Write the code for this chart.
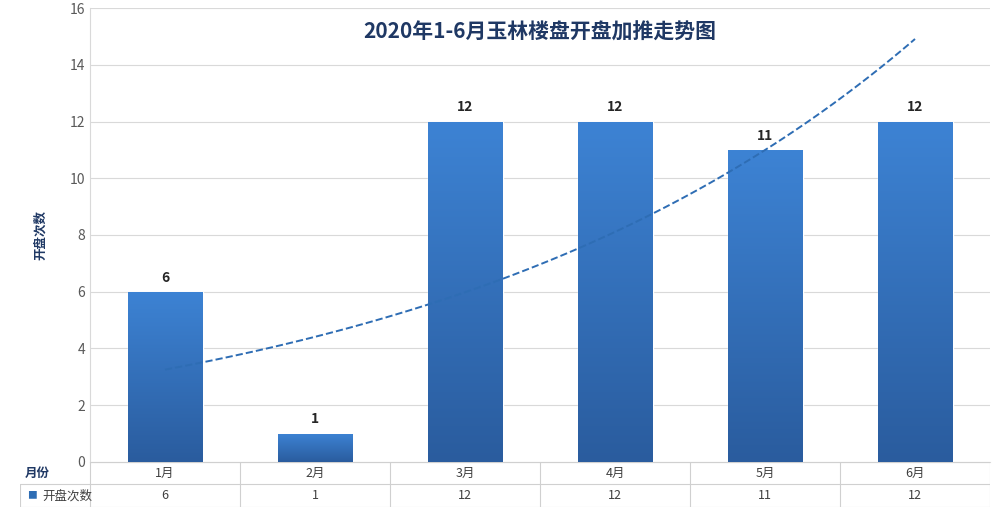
import numpy as np, pandas as pd, seaborn as sns, matplotlib
matplotlib.use("Agg")
import matplotlib.pyplot as plt
from matplotlib.colors import LinearSegmentedColormap

sns.set_style("white")
plt.rcParams['font.family'] = ['Noto Sans CJK SC', 'DejaVu Sans']

months = ["1月", "2月", "3月", "4月", "5月", "6月"]
counts = [6, 1, 12, 12, 11, 12]
title = "2020年1-6月玉林楼盘开盘加推走势图"

df = pd.DataFrame({"month": months, "count": counts})
fig = plt.figure(figsize=(10, 5.07), dpi=100)
ax = fig.add_axes([0.09, 0.089, 0.90, 0.895])
sns.barplot(data=df, x="month", y="count", color="#3a7bc8", width=0.5, ax=ax, zorder=2)

cmap = LinearSegmentedColormap.from_list("g", ["#2a5c9e", "#3d83d4"])
grad = np.linspace(0, 1, 256).reshape(-1, 1)
for p in ax.patches:
    x0, y0, w, h = p.get_x(), p.get_y(), p.get_width(), p.get_height()
    im = ax.imshow(grad, cmap=cmap, extent=[x0, x0 + w, y0, y0 + h], origin="lower",
                   aspect="auto", zorder=3)
    im.set_clip_path(p)
    ax.text(x0 + w / 2, h + 0.25, str(int(h)), ha="center", va="bottom",
            fontsize=10, fontweight="bold", zorder=4)

# exponential trendline fitted to the data
xs = np.arange(len(counts)) + 1
b, a = np.polyfit(xs, np.log(counts), 1)
xt = np.linspace(1, 6, 100)
ax.plot(xt - 1, np.exp(a + b * xt), ls="--", color="#2e6db4", lw=1.4, zorder=5)

ax.set_xlim(-0.5, 5.5)
ax.set_ylim(0, 16)
ax.set_yticks(range(0, 17, 2))
ax.yaxis.grid(True, color="#d9d9d9", lw=0.8, zorder=0)
ax.set_axisbelow(True)
ax.tick_params(axis="y", labelsize=10, colors="#595959", length=0)
ax.set_xticks([]); ax.set_xlabel("")
ax.set_ylabel("开盘次数", fontsize=9, fontweight="bold", color="#1f3864", labelpad=16)
for s in ["top", "right"]:
    ax.spines[s].set_visible(False)
ax.spines["left"].set_color("#d9d9d9")
ax.spines["bottom"].set_color("#d9d9d9")
ax.set_title(title, fontsize=15, fontweight="bold", color="#1f3864", y=0.915)

# data table below
tab = fig.add_axes([0.02, 0.0, 0.97, 0.089])
tab.axis("off")
left_data = -0.5 - (0.07 / 0.90) * 6
tab.set_xlim(left_data, 5.5)
tab.set_ylim(0, 2)
lc = "#d0d0d0"
tab.plot([-0.5, 5.5], [2, 2], color=lc, lw=0.8)
tab.plot([left_data, 5.5], [1, 1], color=lc, lw=0.8)
tab.plot([left_data, 5.5], [0.02, 0.02], color=lc, lw=0.8)
for xv in np.arange(-0.5, 6, 1):
    tab.plot([xv, xv], [0, 2], color=lc, lw=0.8)
tab.plot([left_data, left_data], [0, 1], color=lc, lw=0.8)
for i, (m, c) in enumerate(zip(months, counts)):
    tab.text(i, 1.5, m, ha="center", va="center", fontsize=9, color="#404040")
    tab.text(i, 0.5, str(c), ha="center", va="center", fontsize=9, color="#404040")
tab.text(-0.85, 1.5, "月份", ha="center", va="center", fontsize=9, fontweight="bold", color="#1f3864")
tab.text(left_data + 0.05, 0.5, "■", ha="left", va="center", fontsize=7, color="#2e6db4")
tab.text(left_data + 0.15, 0.5, "开盘次数", ha="left", va="center", fontsize=9, color="#404040")

fig.savefig("out.png", dpi=100)
